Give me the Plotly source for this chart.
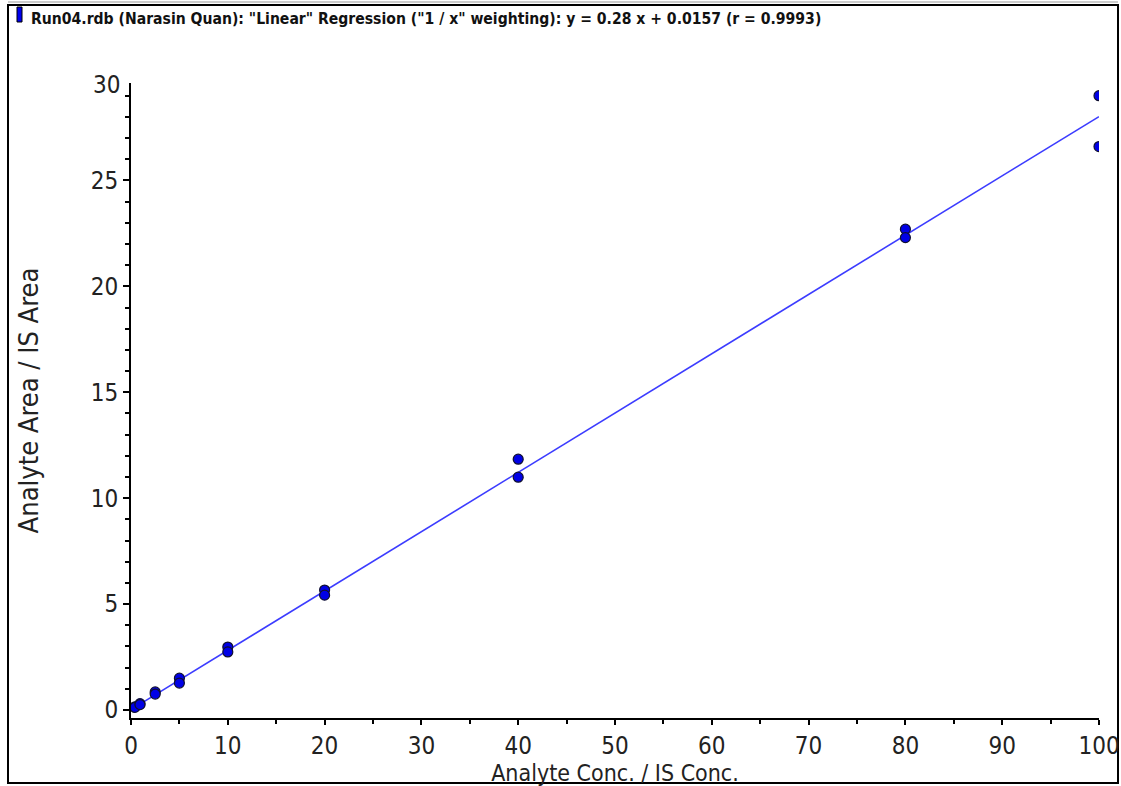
import plotly.graph_objects as go

# ---- data ----
conc = [0.4, 0.4, 0.93, 0.93, 2.5, 2.5, 5, 5, 10, 10, 20, 20, 40, 40, 80, 80, 100, 100]
ratio = [0.15, 0.12, 0.30, 0.25, 0.85, 0.75, 1.50, 1.27, 2.97, 2.74, 5.66, 5.42,
         11.84, 10.99, 22.7, 22.3, 29.0, 26.6]
slope = 0.28
intercept = 0.0157
fit_x = [0, 100]
fit_y = [slope * v + intercept for v in fit_x]

title_text = 'Run04.rdb (Narasin Quan): "Linear" Regression ("1 / x" weighting): y = 0.28 x + 0.0157 (r = 0.9993)'
x_title = "Analyte Conc. / IS Conc."
y_title = "Analyte Area / IS Area"

# ---- layout geometry (pixels) ----
W, H = 1121, 786
L, R, T, B = 131, 22, 83, 68
PW, PH = W - L - R, H - T - B

def px(x):
    return (x - L) / PW

def py(y):
    return (H - B - y) / PH

FONT = "DejaVu Sans Condensed, Liberation Sans Narrow, DejaVu Sans, sans-serif"
TXT = "#222222"

fig = go.Figure()
fig.add_trace(go.Scatter(x=fit_x, y=fit_y, mode="lines",
                         line=dict(color="#3c3cff", width=1.6),
                         hoverinfo="skip", showlegend=False))
fig.add_trace(go.Scatter(x=conc, y=ratio, mode="markers",
                         marker=dict(color="#0000e6", size=10,
                                     line=dict(color="#101030", width=1.2)),
                         showlegend=False))

fig.update_layout(
    width=W, height=H,
    margin=dict(l=L, r=R, t=T, b=B, autoexpand=False),
    paper_bgcolor="white", plot_bgcolor="white",
    font=dict(family=FONT, color=TXT),
    xaxis=dict(range=[0, 100], tickvals=list(range(0, 101, 10)),
               showgrid=False, zeroline=False, showline=True, linecolor="black", linewidth=2,
               ticks="outside", ticklen=5, tickwidth=2, tickcolor="black",
               minor=dict(tickvals=list(range(5, 100, 10)), ticks="outside",
                          ticklen=4, tickwidth=2, tickcolor="black"),
               tickfont=dict(size=24, family=FONT, color=TXT),
               title=dict(text=x_title, font=dict(size=23, family=FONT, color=TXT),
                          standoff=0)),
    yaxis=dict(range=[-0.38, 29.6], tickvals=list(range(0, 30, 5)),
               showgrid=False, zeroline=False, showline=True, linecolor="black", linewidth=2,
               ticks="outside", ticklen=6, tickwidth=2, tickcolor="black",
               minor=dict(tickvals=[v for v in range(1, 30) if v % 5 != 0], ticks="outside",
                          ticklen=4, tickwidth=2, tickcolor="black"),
               tickfont=dict(size=24, family=FONT, color=TXT),
               title=dict(text=y_title, font=dict(size=27, family=FONT, color=TXT),
                          standoff=44)),
)

# top "30" label (axis ends just below 30 in the original)
fig.add_annotation(x=px(122), y=py(85), xref="paper", yref="paper", text="30",
                   showarrow=False, xanchor="right", yanchor="middle",
                   font=dict(size=24, family=FONT, color=TXT))

# title
fig.add_annotation(x=px(29), y=py(19), xref="paper", yref="paper", text="<b>" + title_text + "</b>",
                   showarrow=False, xanchor="left", yanchor="middle",
                   font=dict(size=15.6, family=FONT, color="#111111"))

# outer frame and blue marker bar
fig.add_shape(type="rect", xref="paper", yref="paper",
              x0=px(8), x1=px(1118), y0=py(5), y1=py(783),
              line=dict(color="black", width=2), fillcolor="rgba(0,0,0,0)", layer="below")
fig.add_shape(type="line", xref="paper", yref="paper",
              x0=px(8), x1=px(1118), y0=py(2), y1=py(2),
              line=dict(color="#999999", width=1))
fig.add_shape(type="rect", xref="paper", yref="paper",
              x0=px(17), x1=px(22), y0=py(7), y1=py(22),
              line=dict(color="black", width=1), fillcolor="#0000ee")

post = """
document.body.style.margin = '0';
document.querySelectorAll('svg text').forEach(function (t) {
  t.style.fontStretch = 'condensed';
});
"""

fig.write_html("out.html", post_script=post, config={"displayModeBar": False})
